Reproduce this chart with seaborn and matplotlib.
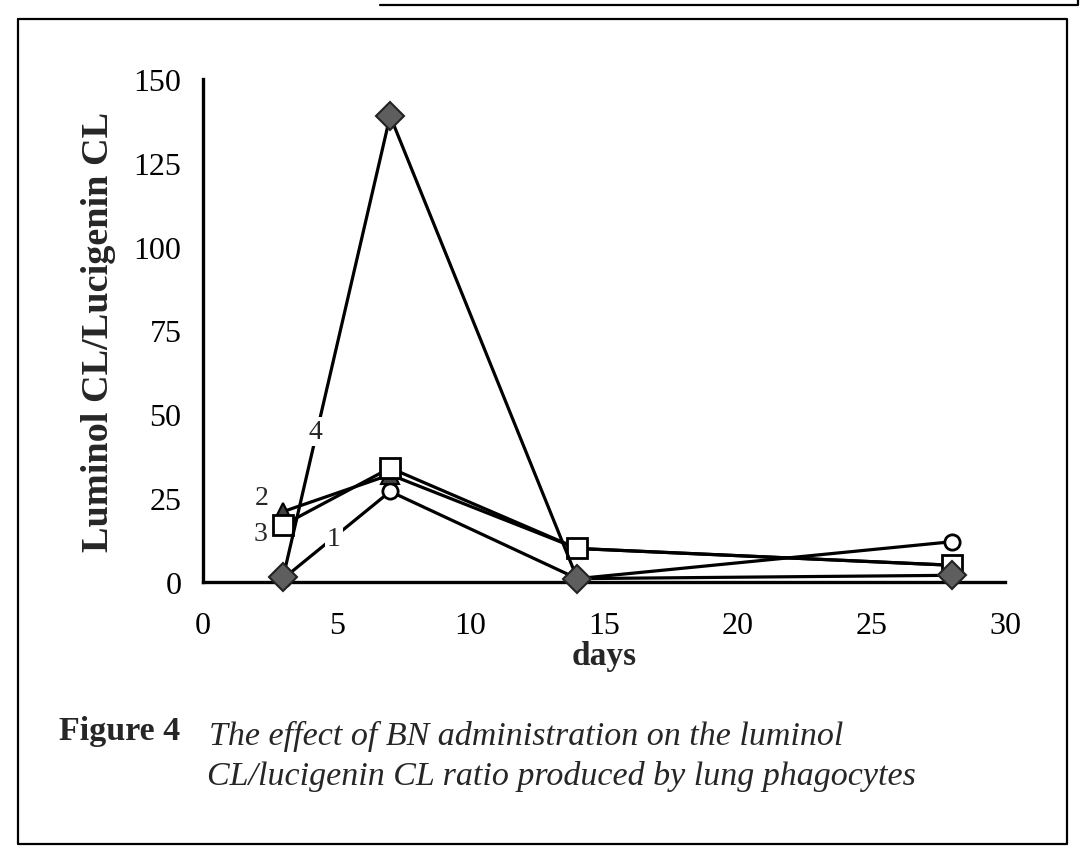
import matplotlib
matplotlib.use("Agg")
import matplotlib.pyplot as plt
import seaborn as sns
from matplotlib.lines import Line2D

days = [3, 7, 14, 28]
series_names = ["1", "2", "3", "4"]
s1 = [1, 27, 1, 12]
s2 = [21, 32, 10, 5]
s3 = [17, 34, 10, 5]
s4 = [1.5, 139, 1, 2]
x_ticks = [0, 5, 10, 15, 20, 25, 30]
y_ticks = [0, 25, 50, 75, 100, 125, 150]
x_label = "days"
y_label = "Luminol CL/Lucigenin CL"
fig_label = "Figure 4"
caption = ["The effect of BN administration on the luminol",
           "CL/lucigenin CL ratio produced by lung phagocytes"]

sns.set_style("white")
plt.rcParams["font.family"] = ["Liberation Serif", "DejaVu Serif"]

fig = plt.figure(figsize=(10.88, 8.54), dpi=100)
ax = fig.add_axes([203 / 1088, (854 - 583) / 854, (1005 - 203) / 1088, 503 / 854])

styles = [
    dict(marker="o", markersize=11, markerfacecolor="white", markeredgecolor="black", markeredgewidth=2),
    dict(marker="^", markersize=13, markerfacecolor="#404040", markeredgecolor="black", markeredgewidth=1.5),
    dict(marker="s", markersize=14, markerfacecolor="white", markeredgecolor="black", markeredgewidth=2),
    dict(marker="D", markersize=14, markerfacecolor="#5e5e5e", markeredgecolor="#222222", markeredgewidth=1.5),
]
for vals, st in zip([s1, s2, s3, s4], styles):
    sns.lineplot(x=days, y=vals, ax=ax, color="black", linewidth=2.3,
                 clip_on=False, zorder=3, **st)

ax.set_xlim(0, 30)
ax.set_ylim(0, 150)
ax.set_xticks(x_ticks)
ax.set_yticks(y_ticks)
ax.tick_params(axis="both", direction="inout", length=14, width=2.2,
               labelsize=23, colors="black")
ax.tick_params(axis="x", pad=14)
ax.tick_params(axis="y", pad=8.5)
for side in ["top", "right"]:
    ax.spines[side].set_visible(False)
for side in ["left", "bottom"]:
    ax.spines[side].set_linewidth(2.4)
    ax.spines[side].set_color("black")
ax.set_xlabel(x_label, fontsize=24, fontweight="bold", labelpad=0)
ax.set_ylabel(y_label, fontsize=27.5, fontweight="bold", labelpad=13)

# series labels (white box interrupts line as in original)
lab_kw = dict(fontsize=20, ha="center", va="center", zorder=5,
              bbox=dict(facecolor="white", edgecolor="none", pad=1.5))
ax.text(4.9, 13.0, series_names[0], **lab_kw)
ax.text(2.2, 25.3, series_names[1], **lab_kw)
ax.text(2.15, 14.6, series_names[2], **lab_kw)
ax.text(4.2, 45.0, series_names[3], **lab_kw)

# caption
fig.text(180 / 1088, 1 - 732 / 854, fig_label, fontsize=24.5, fontweight="bold",
         ha="right", va="center")
fig.text(209 / 1088, 1 - 736 / 854, caption[0], fontsize=24.5, style="italic",
         ha="left", va="center")
fig.text(207 / 1088, 1 - 777 / 854, caption[1], fontsize=24.5, style="italic",
         ha="left", va="center")

# outer frame
def fl(xs, ys):
    fig.add_artist(Line2D([x / 1088 for x in xs], [1 - y / 854 for y in ys],
                          color="black", linewidth=1.6, transform=fig.transFigure))

fl([18, 1067, 1067, 18, 18], [20, 20, 845, 845, 20])
fl([380, 1078, 1078], [6, 6, 0])

fig.savefig("out.png", dpi=100, facecolor="white")
